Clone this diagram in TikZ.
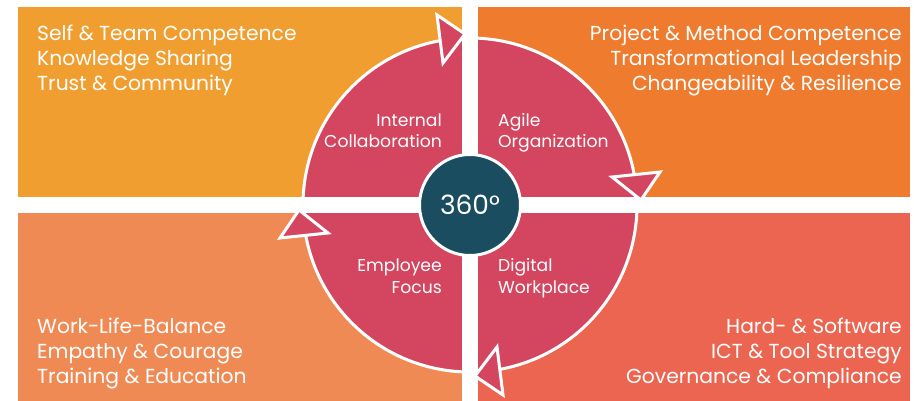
\documentclass[tikz,border=0pt]{standalone}
\usepackage{fontspec}
\setmainfont{Poppins}
\definecolor{cTL}{HTML}{F09E30}
\definecolor{cTR}{HTML}{EE7B2E}
\definecolor{cBL}{HTML}{F08A55}
\definecolor{cBR}{HTML}{EC6550}
\definecolor{crim}{HTML}{D4455F}
\definecolor{teal}{HTML}{1B4D60}
\begin{document}
\begin{tikzpicture}[x=1pt,y=-1pt,
  outer/.style={text=white,inner sep=0pt,font=\fontsize{20.3}{25}\selectfont},
  inner/.style={text=white,inner sep=0pt,font=\fontsize{17.2}{21}\selectfont},
  arrowtri/.style={fill=crim,draw=white,line width=3pt,line join=miter}]
\useasboundingbox (0,0) rectangle (914,401);
\fill[white] (0,0) rectangle (914,401);
% quadrants
\fill[cTL] (18,7) rectangle (462,197);
\fill[cTR] (478,7) rectangle (910,197);
\fill[cBL] (18,213) rectangle (462,401);
\fill[cBR] (478,213) rectangle (910,401);
% big circle
\coordinate (c) at (470,205);
\draw[fill=crim,draw=white,line width=3pt] (c) circle[radius=167];
% white cross
\fill[white] (462,0) rectangle (478,401);
\fill[white] (0,197) rectangle (914,213);
% arrowheads
\draw[arrowtri] (437,15) -- (465,34) -- (443,63) -- cycle;
\draw[arrowtri] (660,172) -- (641,200) -- (612,177) -- cycle;
\draw[arrowtri] (503,395) -- (475,376) -- (497,347) -- cycle;
\draw[arrowtri] (280,238) -- (299,210) -- (328,233) -- cycle;
% centre
\node[circle,fill=teal,draw=white,line width=3pt,minimum size=101pt,inner sep=0pt,
  text=white,font=\fontsize{26.5}{26.5}\selectfont] (hub) at (c) {360°};
% outer texts
\node[outer,anchor=base west] (tl1) at (37,40.5) {Self \& Team Competence};
\node[outer,anchor=base west] (tl2) at (37,65.5) {Knowledge Sharing};
\node[outer,anchor=base west] (tl3) at (37,90.5) {Trust \& Community};
\node[outer,anchor=base east] (tr1) at (902,40.5) {Project \& Method Competence};
\node[outer,anchor=base east] (tr2) at (902,65.5) {Transformational Leadership};
\node[outer,anchor=base east] (tr3) at (902,90.5) {Changeability \& Resilience};
\node[outer,anchor=base west] (bl1) at (37,333) {Work-Life-Balance};
\node[outer,anchor=base west] (bl2) at (37,358) {Empathy \& Courage};
\node[outer,anchor=base west] (bl3) at (37,383) {Training \& Education};
\node[outer,anchor=base east] (br1) at (902,333) {Hard- \& Software};
\node[outer,anchor=base east] (br2) at (902,358) {ICT \& Tool Strategy};
\node[outer,anchor=base east] (br3) at (902,383) {Governance \& Compliance};
% inner texts
\node[inner,anchor=base east] (ic1) at (442,127) {Internal};
\node[inner,anchor=base east] (ic2) at (442,148) {Collaboration};
\node[inner,anchor=base west] (ao1) at (498,127) {Agile};
\node[inner,anchor=base west] (ao2) at (498,148) {Organization};
\node[inner,anchor=base east] (ef1) at (442,272) {Employee};
\node[inner,anchor=base east] (ef2) at (442,293) {Focus};
\node[inner,anchor=base west] (dw1) at (498,272) {Digital};
\node[inner,anchor=base west] (dw2) at (498,293) {Workplace};
\end{tikzpicture}
\end{document}
